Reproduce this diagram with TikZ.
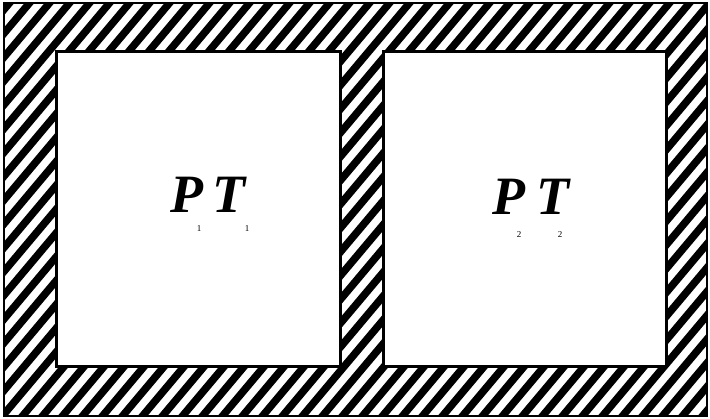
\documentclass[tikz,border=0pt]{standalone}
\usepackage{fontspec}
\setmainfont{Liberation Serif}
\begin{document}
\begin{tikzpicture}[x=1pt,y=-1pt,
  boxwall/.style={draw=black,line width=3pt,fill=white},
  stripe/.style={line width=7.5pt,black},
  bigletter/.style={inner sep=0pt,font=\fontsize{54}{60}\selectfont\bfseries\itshape},
  subidx/.style={inner sep=0pt,font=\fontsize{9}{10}\selectfont}]
\useasboundingbox (0,0) rectangle (710,419);
\fill[white] (0,0) rectangle (710,419);
\begin{scope}
  \clip (4,3) rectangle (707,416);
  \foreach \x in {-400,-380,...,720} {
    \draw[stripe] (\x,419) -- ++(352,-419);
  }
\end{scope}
\draw[line width=2pt] (4,3) rectangle (707,416);
\node[boxwall,minimum width=284pt,minimum height=315pt,anchor=north west] (leftroom) at (55,50) {};
\node[boxwall,minimum width=283pt,minimum height=315pt,anchor=north west] (rightroom) at (382,50) {};
\node[bigletter] (p1) at (187,195) {P};
\node[bigletter] (t1) at (229,195) {T};
\node[subidx] (s1a) at (199,229) {1};
\node[subidx] (s1b) at (247,229) {1};
\node[bigletter] (p2) at (509,197) {P};
\node[bigletter] (t2) at (553,197) {T};
\node[subidx] (s2a) at (519,235) {2};
\node[subidx] (s2b) at (560,235) {2};
\end{tikzpicture}
\end{document}
